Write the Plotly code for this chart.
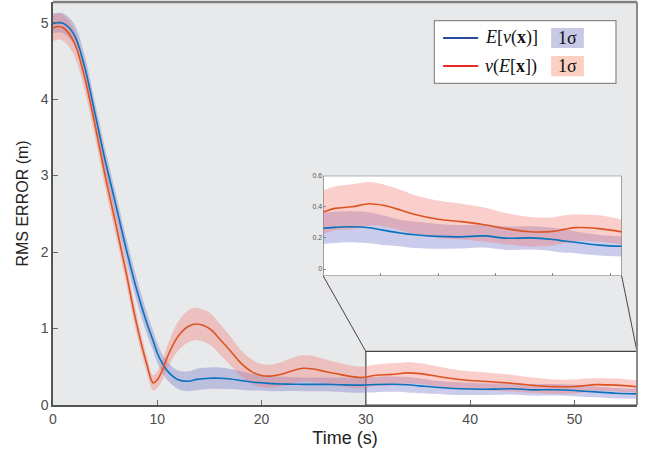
import plotly.graph_objects as go

# ---------------- data ----------------
time_s = [0, 0.5, 1, 2, 3, 4, 5, 6, 7, 8, 9, 9.6, 10, 10.5, 11, 12, 13, 13.8, 15, 16,
          17, 18, 19, 20, 21, 22, 23, 24, 25, 26, 27.5, 29.5, 31, 32.5, 34, 35.2, 36.7,
          38, 40, 42, 44, 46, 48, 50, 51, 52, 54, 56]

ev_mean = [4.99, 5.00, 4.99, 4.85, 4.44, 3.83, 3.20, 2.63, 2.05, 1.52, 1.07, 0.84, 0.68,
           0.54, 0.44, 0.33, 0.31, 0.335, 0.35, 0.35, 0.34, 0.32, 0.30, 0.29, 0.28, 0.275,
           0.272, 0.27, 0.27, 0.27, 0.265, 0.26, 0.268, 0.272, 0.265, 0.25, 0.232, 0.22,
           0.21, 0.207, 0.213, 0.198, 0.20, 0.19, 0.18, 0.172, 0.154, 0.146]
ev_std = [0.13, 0.13, 0.13, 0.14, 0.15, 0.15, 0.15, 0.15, 0.15, 0.15, 0.14, 0.13, 0.13,
          0.12, 0.12, 0.12, 0.13, 0.14, 0.14, 0.14, 0.13, 0.12, 0.11, 0.10, 0.10, 0.095,
          0.09, 0.09, 0.09, 0.09, 0.095, 0.10, 0.10, 0.10, 0.10, 0.095, 0.085, 0.085,
          0.08, 0.075, 0.075, 0.075, 0.075, 0.075, 0.075, 0.07, 0.067, 0.065]

ve_mean = [4.93, 4.95, 4.93, 4.75, 4.30, 3.68, 3.00, 2.38, 1.74, 1.07, 0.53, 0.29, 0.33,
           0.46, 0.64, 0.90, 1.03, 1.06, 1.00, 0.86, 0.71, 0.55, 0.44, 0.385, 0.38, 0.405,
           0.45, 0.48, 0.47, 0.44, 0.40, 0.36, 0.39, 0.40, 0.42, 0.41, 0.38, 0.35, 0.32,
           0.305, 0.285, 0.258, 0.24, 0.242, 0.255, 0.266, 0.26, 0.239]
ve_std = [0.17, 0.17, 0.17, 0.17, 0.17, 0.16, 0.16, 0.15, 0.14, 0.13, 0.11, 0.10, 0.11,
          0.13, 0.15, 0.19, 0.21, 0.21, 0.21, 0.20, 0.19, 0.17, 0.16, 0.15, 0.15, 0.16,
          0.17, 0.17, 0.17, 0.16, 0.15, 0.14, 0.14, 0.145, 0.14, 0.135, 0.13, 0.125,
          0.12, 0.115, 0.11, 0.10, 0.095, 0.09, 0.09, 0.085, 0.085, 0.08]

x_ticks = [0, 10, 20, 30, 40, 50]
y_ticks = [0, 1, 2, 3, 4, 5]
inset_y_ticks = [0, 0.2, 0.4, 0.6]
inset_y_labels = ["0", "0.2", "0.4", "0.6"]
inset_x_ticks = [35, 40, 45, 50, 55]

legend_labels = ["<i>E</i>[<i>v</i>(<b>x</b>)]", "<i>v</i>(<i>E</i>[<b>x</b>])"]

# ---------------- styles ----------------
BLUE = "#0a72bd"
RED = "#dc5421"
BLUE_FILL = "rgba(110,115,200,0.36)"
RED_FILL = "rgba(240,120,110,0.36)"
X_RANGE = [0, 56]
Y_RANGE = [0, 5.27]
INSET_X = [30, 56]
INSET_Y = [-0.045, 0.6]
ZOOM_TOP = 0.7
INSET_DOM_X = [0.4628, 0.9738]
INSET_DOM_Y = [0.320, 0.569]
FONT = "Liberation Sans, Arial, sans-serif"

fig = go.Figure()

def add_series(mean, std, color, fill, xa, ya, lw):
    lo = [m - s for m, s in zip(mean, std)]
    hi = [m + s for m, s in zip(mean, std)]
    return [
        go.Scatter(x=time_s, y=lo, mode="lines", line=dict(width=0, shape="spline", color=fill),
                   xaxis=xa, yaxis=ya, showlegend=False, hoverinfo="skip"),
        go.Scatter(x=time_s, y=hi, mode="lines", line=dict(width=0, shape="spline", color=fill),
                   fill="tonexty", fillcolor=fill, xaxis=xa, yaxis=ya, showlegend=False,
                   hoverinfo="skip"),
    ], go.Scatter(x=time_s, y=mean, mode="lines", line=dict(color=color, width=lw, shape="spline"),
                  xaxis=xa, yaxis=ya, showlegend=False)

for xa, ya, lw in [("x", "y", 1.6), ("x2", "y2", 1.6)]:
    b_band, b_line = add_series(ev_mean, ev_std, BLUE, BLUE_FILL, xa, ya, lw)
    r_band, r_line = add_series(ve_mean, ve_std, RED, RED_FILL, xa, ya, lw)
    for tr in b_band + r_band + [b_line, r_line]:
        fig.add_trace(tr)

shapes = []
shapes.append(dict(type="rect", xref="x", yref="y", x0=X_RANGE[0], x1=X_RANGE[1],
                   y0=Y_RANGE[0], y1=Y_RANGE[1], fillcolor="#e8e9eb", line=dict(width=0),
                   layer="below"))
shapes.append(dict(type="rect", xref="x2", yref="y2", x0=INSET_X[0], x1=INSET_X[1],
                   y0=INSET_Y[0], y1=INSET_Y[1], fillcolor="white",
                   line=dict(color="#6b6b6b", width=1.2), layer="below"))
shapes.append(dict(type="rect", xref="x", yref="y", x0=INSET_X[0], x1=INSET_X[1],
                   y0=0, y1=ZOOM_TOP, fillcolor="white",
                   line=dict(color="#444444", width=1.2), layer="below"))
ix0 = INSET_DOM_X[0] * (X_RANGE[1] - X_RANGE[0]) + X_RANGE[0]
ix1 = INSET_DOM_X[1] * (X_RANGE[1] - X_RANGE[0]) + X_RANGE[0]
iy0 = INSET_DOM_Y[0] * (Y_RANGE[1] - Y_RANGE[0]) + Y_RANGE[0]
shapes.append(dict(type="line", xref="x", yref="y", x0=ix0, y0=iy0, x1=INSET_X[0], y1=ZOOM_TOP,
                   line=dict(color="#444444", width=1)))
shapes.append(dict(type="line", xref="x", yref="y", x0=ix1, y0=iy0, x1=INSET_X[1], y1=ZOOM_TOP,
                   line=dict(color="#444444", width=1)))
shapes.append(dict(type="line", xref="paper", yref="paper", x0=0, x1=1, y0=1, y1=1,
                   line=dict(color="#7f7f7f", width=2.5)))
shapes.append(dict(type="line", xref="paper", yref="paper", x0=1, x1=1, y0=0, y1=1,
                   line=dict(color="#8a8a8a", width=2)))

shapes.append(dict(type="rect", xref="paper", yref="paper", x0=0.653, x1=0.964, y0=0.798,
                   y1=0.954, fillcolor="white", line=dict(color="#8a8a8a", width=1.2)))
leg_rows = [0.9107, 0.841]
leg_colors = ["#2b4c9b", "#ec2a24"]
patch_colors = ["#c8c9e6", "#fbd0c0"]
annotations = []
for i, yy in enumerate(leg_rows):
    shapes.append(dict(type="line", xref="paper", yref="paper", x0=0.668, x1=0.728, y0=yy, y1=yy,
                       line=dict(color=leg_colors[i], width=2)))
    shapes.append(dict(type="rect", xref="paper", yref="paper", x0=0.853, x1=0.909,
                       y0=yy - 0.025, y1=yy + 0.025, fillcolor=patch_colors[i],
                       line=dict(width=0)))
    annotations.append(dict(xref="paper", yref="paper", x=0.736, y=yy, xanchor="left",
                            yanchor="middle", text=legend_labels[i], showarrow=False,
                            font=dict(family="Liberation Serif, serif", size=18, color="#111")))
    annotations.append(dict(xref="paper", yref="paper", x=0.881, y=yy, xanchor="center",
                            yanchor="middle", text="1σ", showarrow=False,
                            font=dict(family="Liberation Serif, serif", size=18, color="#111")))

fig.update_layout(
    width=656, height=455,
    margin=dict(l=53, r=19, t=2, b=50, autoexpand=False),
    paper_bgcolor="white",
    plot_bgcolor="rgba(0,0,0,0)",
    showlegend=False,
    shapes=shapes,
    annotations=annotations,
    font=dict(family=FONT, color="#444"),
    xaxis=dict(range=X_RANGE, tickvals=x_ticks, ticks="inside", ticklen=5, tickcolor="#666",
               showgrid=False, zeroline=False, showline=True, linecolor="#555", linewidth=1.5,
               automargin=False, tickfont=dict(size=14, color="#4d4d4d"),
               title=dict(text="Time (s)", font=dict(size=18, color="#222"), standoff=6)),
    yaxis=dict(range=Y_RANGE, tickvals=y_ticks, ticks="inside", ticklen=5, tickcolor="#666",
               showgrid=False, zeroline=False, showline=True, linecolor="#555", linewidth=1.5,
               automargin=False, tickfont=dict(size=14, color="#4d4d4d"),
               title=dict(text="RMS ERROR (m)", font=dict(size=16, color="#222"), standoff=8)),
    xaxis2=dict(domain=INSET_DOM_X, anchor="y2", range=INSET_X, tickvals=inset_x_ticks,
                ticks="inside", ticklen=3, tickcolor="#888", showticklabels=False,
                showgrid=False, zeroline=False, showline=False, automargin=False),
    yaxis2=dict(domain=INSET_DOM_Y, anchor="x2", range=INSET_Y, tickvals=inset_y_ticks,
                ticktext=inset_y_labels, ticks="inside", ticklen=3, tickcolor="#888",
                tickfont=dict(size=7, color="#555"), showgrid=False, zeroline=False,
                showline=False, automargin=False),
)

fig.write_html("out.html", config={"displayModeBar": False},
               post_script="document.body.style.margin='0';")
